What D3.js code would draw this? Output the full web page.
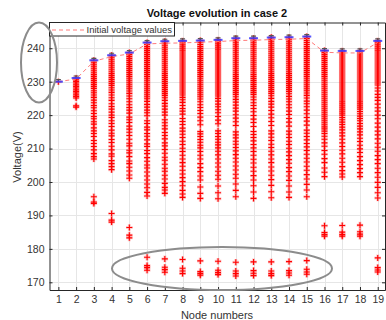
<!DOCTYPE html>
<html>
<head>
<meta charset="utf-8">
<script src="https://cdn.jsdelivr.net/npm/d3@7"></script>
<style>
  body { margin: 0; background: #fff; }
  svg { display: block; }
  text { font-family: "Liberation Sans", Arial, sans-serif; }
</style>
</head>
<body>
<svg id="chart" width="386" height="320"></svg>
<script>
// node numbers and tick values
const nodes = d3.range(1, 20);
const yTicks = [170, 180, 190, 200, 210, 220, 230, 240];

// initial voltage values (dashed line) and top values (blue marks)
const initialV = [230, 230.8, 236.1, 237.5, 238.3, 241.3, 241.5, 241.6, 241.8, 242.0, 242.3, 242.4, 242.6, 242.7, 242.9, 238.8, 238.6, 238.6, 241.7];
const topV = [230, 231.1, 236.4, 237.9, 238.7, 241.7, 242.1, 242.2, 242.3, 242.5, 243.0, 243.0, 243.2, 243.3, 243.5, 239.3, 239.2, 239.2, 242.2];

// voltage samples for each node
const n1 = [230];
const n2 = [231.1,230.6,230.1,229.6,229.1,228.6,228.1,227.6,227.1,226.6,226.1,225.6,225.1,222.8,222.4];
const n3 = [236.4,235.8,235.2,234.6,234.0,233.4,232.8,232.2,231.6,231.0,230.4,229.8,229.2,228.6,228.0,227.3,226.7,226.0,225.3,224.5,223.7,222.9,222.2,221.3,220.5,219.6,218.9,218.0,217.3,216.2,215.3,214.5,213.6,212.4,211.5,210.6,209.6,208.5,207.6,206.9,195.6,194.0,193.6];
const n4 = [237.9,237.3,236.7,236.1,235.5,234.9,234.3,233.7,233.1,232.5,231.9,231.3,230.7,230.1,229.5,228.9,228.2,227.5,226.8,226.0,225.2,224.4,223.4,222.6,221.8,220.9,220.0,219.3,218.3,217.5,216.6,215.5,214.6,213.8,212.7,211.8,210.7,209.6,208.4,207.7,206.4,205.5,204.6,203.7,190.6,188.6,188.0];
const n5 = [238.7,238.1,237.5,236.9,236.3,235.7,235.1,234.5,233.9,233.3,232.7,232.1,231.5,230.9,230.3,229.7,229.1,228.5,227.9,227.2,226.5,225.7,224.9,224.0,223.1,222.3,221.5,220.6,219.4,218.6,217.8,216.7,215.8,214.9,213.9,212.8,211.6,210.8,209.5,208.7,207.6,206.3,205.5,204.4,203.3,202.1,201.1,186.4,184.1,183.3];
const n6 = [241.7,241.1,240.5,239.9,239.3,238.7,238.1,237.5,236.9,236.3,235.7,235.1,234.5,233.9,233.3,232.7,232.1,231.5,230.9,230.3,229.7,229.1,228.5,227.9,227.3,226.7,226.1,225.5,224.9,224.1,223.2,222.4,221.5,220.7,219.8,218.3,217.5,216.4,215.6,214.5,213.7,212.6,211.4,210.6,209.4,208.5,207.3,206.2,205.1,204.2,203.0,201.8,200.6,199.4,198.3,196.9,195.8,177.5,175.0,174.4,173.6];
const n7 = [242.1,241.5,240.9,240.3,239.7,239.1,238.5,237.9,237.3,236.7,236.1,235.5,234.9,234.3,233.7,233.1,232.5,231.9,231.3,230.7,230.1,229.5,228.9,228.3,227.7,227.1,226.5,225.9,225.2,224.4,223.5,222.7,221.8,220.9,220.0,218.6,217.7,216.8,215.9,214.8,213.9,212.9,211.7,210.8,209.7,208.6,207.4,206.5,205.3,204.1,203.2,202.0,200.9,199.6,198.4,197.6,196.6,177.0,174.5,173.8,173.0];
const n8 = [242.2,241.6,241.0,240.4,239.8,239.2,238.6,238.0,237.4,236.8,236.2,235.6,235.0,234.4,233.8,233.2,232.6,232.0,231.4,230.8,230.2,229.6,229.0,228.4,227.8,227.2,226.6,226.0,225.3,224.6,223.8,222.9,222.0,221.2,220.3,219.0,218.1,217.2,216.1,215.2,214.3,213.3,212.2,211.2,210.1,209.1,208.0,206.9,205.8,204.7,203.5,202.4,201.3,200.1,198.9,197.5,196.4,195.4,176.8,174.2,173.4,172.6];
const n9 = [242.3,241.7,241.1,240.5,239.9,239.3,238.7,238.1,237.5,236.9,236.3,235.7,235.1,234.5,233.9,233.3,232.7,232.1,231.5,230.9,230.3,229.7,229.1,228.5,227.9,227.3,226.7,226.1,225.5,224.8,224.0,223.1,222.3,221.4,220.5,219.4,218.3,217.1,215.1,214.4,213.6,212.7,211.9,211.0,210.2,209.1,208.0,206.9,205.5,204.3,203.1,201.8,200.6,198.5,196.6,195.1,176.4,173.2,172.6,172.1];
const n10 = [242.5,241.9,241.3,240.7,240.1,239.5,238.9,238.3,237.7,237.1,236.5,235.9,235.3,234.7,234.1,233.5,232.9,232.3,231.7,231.1,230.5,229.9,229.3,228.7,228.1,227.5,226.9,226.3,225.7,225.0,224.2,223.3,222.5,221.6,220.7,219.6,218.5,217.4,215.3,214.5,213.6,212.8,211.9,211.1,210.2,209.2,208.1,206.9,205.7,204.5,203.2,202.0,200.8,198.8,196.8,195.0,176.3,173.6,172.9,172.3];
const n11 = [243.0,242.4,241.8,241.2,240.6,240.0,239.4,238.8,238.2,237.6,237.0,236.4,235.8,235.2,234.6,234.0,233.4,232.8,232.2,231.6,231.0,230.4,229.8,229.2,228.6,228.0,227.4,226.8,226.2,225.5,224.7,223.9,223.0,222.1,221.2,220.1,219.1,218.0,216.9,215.0,214.1,213.2,212.2,211.3,210.3,209.3,208.2,207.1,206.0,204.8,203.6,202.3,201.1,199.4,197.5,195.6,176.0,173.4,172.6,171.9];
const n12 = [243.0,242.4,241.8,241.2,240.6,240.0,239.4,238.8,238.2,237.6,237.0,236.4,235.8,235.2,234.6,234.0,233.4,232.8,232.2,231.6,231.0,230.4,229.8,229.2,228.6,228.0,227.4,226.8,226.2,225.4,224.6,223.7,222.9,222.0,221.0,219.9,218.8,217.8,216.6,215.1,214.2,213.3,212.3,211.2,210.2,209.1,208.0,206.8,205.7,204.4,203.2,201.9,200.6,198.9,197.0,195.1,176.1,173.5,172.7,172.0];
const n13 = [243.3,242.7,242.1,241.5,240.9,240.3,239.7,239.1,238.5,237.9,237.3,236.7,236.1,235.5,234.9,234.3,233.7,233.1,232.5,231.9,231.3,230.7,230.1,229.5,228.9,228.3,227.7,227.1,226.5,225.8,225.0,224.1,223.3,222.4,221.4,220.3,219.2,218.1,216.9,215.3,214.4,213.4,212.4,211.3,210.3,209.2,208.1,206.9,205.8,204.5,203.3,202.0,200.7,199.0,197.1,195.3,176.1,173.4,172.6,172.0];
const n14 = [243.3,242.7,242.1,241.5,240.9,240.3,239.7,239.1,238.5,237.9,237.3,236.7,236.1,235.5,234.9,234.3,233.7,233.1,232.5,231.9,231.3,230.7,230.1,229.5,228.9,228.3,227.7,227.1,226.4,225.6,224.8,224.0,223.1,222.2,221.2,220.2,219.0,217.9,216.7,215.2,214.3,213.3,212.2,211.2,210.1,209.0,207.9,206.7,205.6,204.3,203.1,201.8,200.5,198.8,197.0,195.4,176.2,173.5,172.8,172.1];
const n15 = [243.5,242.9,242.3,241.7,241.1,240.5,239.9,239.3,238.7,238.1,237.5,236.9,236.3,235.7,235.1,234.5,233.9,233.3,232.7,232.1,231.5,230.9,230.3,229.7,229.1,228.5,227.9,227.3,226.6,225.9,225.1,224.2,223.4,222.5,221.5,220.4,219.3,218.2,217.0,215.5,214.6,213.6,212.6,211.5,210.5,209.4,208.3,207.1,206.0,204.7,203.5,202.2,200.9,199.3,197.6,195.6,176.5,173.9,173.1,172.4];
const n16 = [239.3,238.7,238.1,237.5,236.9,236.3,235.7,235.1,234.5,233.9,233.3,232.7,232.1,231.5,230.9,230.3,229.7,229.1,228.5,227.9,227.3,226.7,226.1,225.5,224.9,224.3,223.7,223.1,222.5,221.9,221.3,220.7,220.1,219.5,218.9,218.3,217.7,217.1,216.5,215.9,215.2,214.5,213.7,212.8,211.7,210.7,209.4,208.3,207.0,205.8,204.2,202.9,201.6,186.9,184.9,184.3,183.8];
const n17 = [239.2,238.6,238.0,237.4,236.8,236.2,235.6,235.0,234.4,233.8,233.2,232.6,232.0,231.4,230.8,230.2,229.6,229.0,228.4,227.8,227.2,226.6,226.0,225.4,224.8,224.2,223.6,223.0,222.4,221.8,221.2,220.6,220.0,219.3,218.6,217.9,217.2,216.4,215.6,214.7,213.8,212.8,211.7,210.6,209.5,208.4,207.1,205.9,204.6,203.4,202.4,201.5,187.0,185.0,184.3,183.8];
const n18 = [239.2,238.6,238.0,237.4,236.8,236.2,235.6,235.0,234.4,233.8,233.2,232.6,232.0,231.4,230.8,230.2,229.6,229.0,228.4,227.8,227.2,226.6,226.0,225.4,224.8,224.2,223.6,223.0,222.4,221.8,221.1,220.4,219.7,219.0,218.3,217.5,216.7,215.9,215.0,214.1,213.1,212.1,211.0,209.9,208.8,207.6,206.4,205.2,204.0,202.8,201.6,187.1,185.1,184.4,183.8];
const n19 = [242.2,241.6,241.0,240.4,239.8,239.2,238.6,238.0,237.4,236.8,236.2,235.6,235.0,234.4,233.8,233.2,232.6,232.0,231.4,230.8,230.2,229.6,229.0,228.1,227.2,226.2,225.3,224.4,223.3,222.2,221.2,220.0,218.9,217.6,216.4,215.2,214.1,212.9,211.6,210.4,209.2,207.9,206.7,205.5,204.1,202.8,201.4,199.9,198.4,196.8,195.2,177.3,174.4,173.7,173.1];
const samples = [n1,n2,n3,n4,n5,n6,n7,n8,n9,n10,n11,n12,n13,n14,n15,n16,n17,n18,n19];

const svg = d3.select("#chart");
const L = 49.5, R = 385, T = 22.5, B = 290;
const axisCol = "#262626";

const x = d3.scaleLinear().domain([0.5, 19.41]).range([L, R]);
const y = d3.scaleLinear().domain([167.7, 247.7]).range([B, T]);

// grid
const grid = svg.append("g").attr("stroke", "#e6e6e6").attr("stroke-width", 1);
grid.selectAll(".gx").data(nodes).enter().append("line")
  .attr("x1", d => Math.round(x(d)) + 0.5).attr("x2", d => Math.round(x(d)) + 0.5)
  .attr("y1", T).attr("y2", B);
grid.selectAll(".gy").data(yTicks).enter().append("line")
  .attr("y1", d => Math.round(y(d)) + 0.5).attr("y2", d => Math.round(y(d)) + 0.5)
  .attr("x1", L).attr("x2", R);

// red plus markers
const pts = [];
samples.forEach((arr, i) => arr.forEach(v => pts.push([nodes[i], v])));
const plus = (cx, cy, a) => `M${cx - a},${cy}H${cx + a}M${cx},${cy - a}V${cy + a}`;

svg.append("g").selectAll("path").data(pts).enter().append("path")
  .attr("d", d => plus(x(d[0]), y(d[1]), 3.3))
  .attr("fill", "none").attr("stroke", "rgba(255,60,60,0.28)").attr("stroke-width", 3);
svg.append("g").selectAll("path").data(pts).enter().append("path")
  .attr("d", d => plus(x(d[0]), y(d[1]), 3))
  .attr("fill", "none").attr("stroke", "#ff0000").attr("stroke-width", 1.1);

// dashed line of initial values
svg.append("path")
  .datum(initialV)
  .attr("d", d3.line().x((d, i) => x(nodes[i])).y(d => y(d)))
  .attr("fill", "none").attr("stroke", "#ff7a7a").attr("stroke-width", 1)
  .attr("stroke-dasharray", "4,3");

// gray caps and blue marks at the top
svg.append("g").selectAll("path").data(topV).enter().append("path")
  .attr("d", (d, i) => {
    const cx = x(nodes[i]), cy = y(d) - 2;
    return `M${cx - 2.5},${cy}H${cx + 2.5}M${cx},${cy}V${cy + 2}`;
  })
  .attr("stroke", "#555").attr("stroke-width", 1.2).attr("fill", "none");
svg.append("g").selectAll("line").data(topV).enter().append("line")
  .attr("x1", (d, i) => x(nodes[i]) - 4.5).attr("x2", (d, i) => x(nodes[i]) + 4.5)
  .attr("y1", d => y(d)).attr("y2", d => y(d))
  .attr("stroke", "#3a3aff").attr("stroke-width", 2).attr("opacity", 0.85);

// axes (box with inward ticks)
function styleAxis(g) {
  g.selectAll("path").attr("stroke", axisCol);
  g.selectAll("line").attr("stroke", axisCol);
  g.selectAll("text").attr("fill", "#333").style("font-size", "10.5px");
}
svg.append("g").attr("transform", `translate(0,${B})`)
  .call(d3.axisBottom(x).tickValues(nodes).tickFormat(d3.format("d")).tickSizeInner(-3).tickSizeOuter(0).tickPadding(6))
  .call(styleAxis);
svg.append("g").attr("transform", `translate(${L},0)`)
  .call(d3.axisLeft(y).tickValues(yTicks).tickSizeInner(-3).tickSizeOuter(0).tickPadding(5))
  .call(styleAxis);
svg.append("g").attr("transform", `translate(0,${T})`)
  .call(d3.axisTop(x).tickValues(nodes).tickFormat("").tickSizeInner(-3).tickSizeOuter(0))
  .call(styleAxis);
svg.append("g").attr("transform", `translate(${R},0)`)
  .call(d3.axisRight(y).tickValues(yTicks).tickFormat("").tickSizeInner(-3).tickSizeOuter(0))
  .call(styleAxis);

// labels
svg.append("text").attr("x", 217).attr("y", 17).attr("text-anchor", "middle")
  .style("font-size", "11px").style("font-weight", "bold").attr("fill", "#111")
  .text("Voltage evolution in case 2");
svg.append("text").attr("x", 217).attr("y", 319).attr("text-anchor", "middle")
  .style("font-size", "11px").attr("fill", "#333").text("Node numbers");
svg.append("text").attr("transform", "translate(21,157) rotate(-90)").attr("text-anchor", "middle")
  .style("font-size", "11px").attr("fill", "#333").text("Voltage(V)");

// legend
const lg = svg.append("g");
lg.append("rect").attr("x", L).attr("y", T).attr("width", 125).attr("height", 13.5)
  .attr("fill", "#fff").attr("stroke", axisCol).attr("stroke-width", 1);
lg.append("line").attr("x1", 52).attr("x2", 84).attr("y1", 30).attr("y2", 30)
  .attr("stroke", "#ff7a7a").attr("stroke-width", 1).attr("stroke-dasharray", "4,3");
lg.append("text").attr("x", 86.5).attr("y", 33.3).style("font-size", "9.5px").attr("fill", "#333")
  .text("Initial voltage values");

// gray ellipses
svg.append("ellipse").attr("cx", 39).attr("cy", 62.5).attr("rx", 18).attr("ry", 40)
  .attr("fill", "none").attr("stroke", "#8c8c8c").attr("stroke-width", 2);
svg.append("ellipse").attr("cx", 222).attr("cy", 268.5).attr("rx", 110).attr("ry", 21.5)
  .attr("fill", "none").attr("stroke", "#8c8c8c").attr("stroke-width", 2);
</script>
</body>
</html>
